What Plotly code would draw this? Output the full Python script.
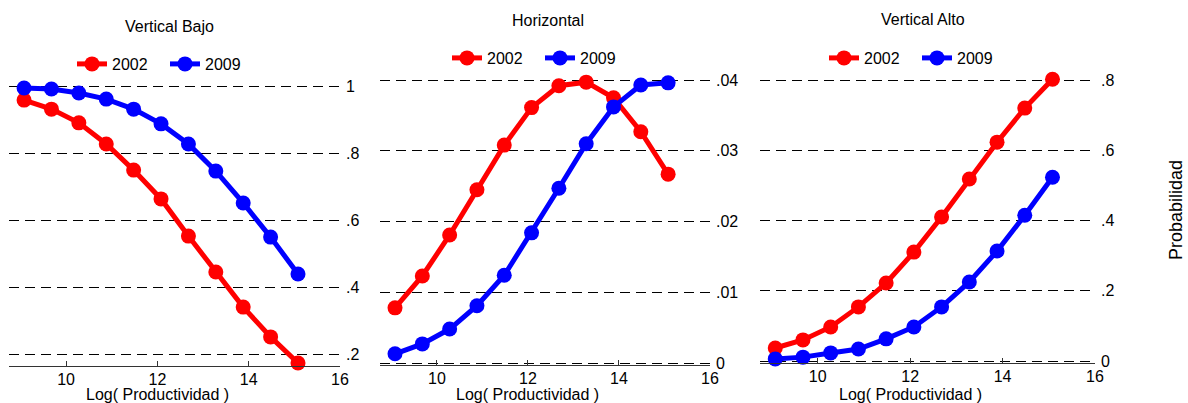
import plotly.graph_objects as go

# ---- data ----
log_prod = [9.08, 9.68, 10.28, 10.88, 11.48, 12.08, 12.68, 13.28, 13.88, 14.48, 15.08]

vb_2002 = [0.958, 0.931, 0.890, 0.827, 0.749, 0.663, 0.552, 0.445, 0.340, 0.251, 0.173]
vb_2009 = [0.994, 0.991, 0.979, 0.961, 0.931, 0.887, 0.827, 0.746, 0.651, 0.549, 0.439]

h_2002 = [0.0078, 0.0123, 0.0181, 0.0245, 0.0308, 0.0361, 0.0392, 0.0397, 0.0375, 0.0327, 0.0267]
h_2009 = [0.0013, 0.0027, 0.0048, 0.0081, 0.0124, 0.0184, 0.0247, 0.0310, 0.0362, 0.0393, 0.0396]

va_2002 = [0.037, 0.060, 0.097, 0.154, 0.222, 0.310, 0.410, 0.518, 0.623, 0.720, 0.802]
va_2009 = [0.006, 0.011, 0.023, 0.034, 0.063, 0.097, 0.154, 0.225, 0.313, 0.415, 0.523]

panel_titles = ["Vertical Bajo", "Horizontal", "Vertical Alto"]
series_names = ["2002", "2009"]
x_ticks = [10, 12, 14, 16]
x_ticktext = ["10", "12", "14", "16"]
y1_ticks = [0.2, 0.4, 0.6, 0.8, 1.0]
y1_ticktext = [".2", ".4", ".6", ".8", "1"]
y2_ticks = [0, 0.01, 0.02, 0.03, 0.04]
y2_ticktext = ["0", ".01", ".02", ".03", ".04"]
y3_ticks = [0, 0.2, 0.4, 0.6, 0.8]
y3_ticktext = ["0", ".2", ".4", ".6", ".8"]
x_title = "Log( Productividad )"
y_title = "Probabilidad"

# ---- style ----
W, H = 1188, 403
FONT = "Liberation Sans, Arial, sans-serif"
RED, BLUE = "#ff0000", "#0000ff"
colors = [RED, BLUE]

panels = [
    dict(series=[vb_2002, vb_2009], yt=y1_ticks, ytt=y1_ticktext,
         xpx=(9, 340), ypx=(76, 366), yr=(0.1642, 1.0299), legend="legend"),
    dict(series=[h_2002, h_2009], yt=y2_ticks, ytt=y2_ticktext,
         xpx=(380, 710), ypx=(76, 365), yr=(-0.00028, 0.04057), legend="legend2"),
    dict(series=[va_2002, va_2009], yt=y3_ticks, ytt=y3_ticktext,
         xpx=(760, 1095), ypx=(76, 363), yr=(-0.0057, 0.8114), legend="legend3"),
]

fig = go.Figure()
layout = dict(
    width=W, height=H, autosize=False,
    margin=dict(l=0, r=0, t=0, b=0, pad=0, autoexpand=False),
    paper_bgcolor="white", plot_bgcolor="white",
    font=dict(family=FONT, size=16, color="#000000"),
    annotations=[],
)

for i, p in enumerate(panels):
    n = "" if i == 0 else str(i + 1)
    xa, ya = "x" + n, "y" + n
    for s, vals in enumerate(p["series"]):
        fig.add_trace(go.Scatter(
            x=log_prod, y=vals, name=series_names[s], mode="lines+markers",
            line=dict(color=colors[s], width=5),
            marker=dict(color=colors[s], size=15),
            xaxis=xa, yaxis=ya, legend=p["legend"], cliponaxis=False,
        ))
    layout["xaxis" + n] = dict(
        domain=[p["xpx"][0] / W, p["xpx"][1] / W], range=[8.75, 16],
        anchor=ya, showgrid=False, zeroline=False, automargin=False,
        showline=True, linecolor="#333333", linewidth=1,
        ticks="inside", ticklen=5, tickcolor="#333333", tickwidth=1,
        tickvals=x_ticks, ticktext=x_ticktext, ticklabelstandoff=-1,
        tickfont=dict(size=16),
    )
    layout["yaxis" + n] = dict(
        domain=[(H - p["ypx"][1]) / H, (H - p["ypx"][0]) / H], range=list(p["yr"]),
        anchor=xa, side="right", showline=False, zeroline=False, ticks="",
        automargin=False,
        showgrid=True, gridcolor="#000000", gridwidth=1.2, griddash="10px,6px",
        tickvals=p["yt"], ticktext=p["ytt"], ticklabelstandoff=5,
        tickfont=dict(size=16),
    )
    # x-axis title centered at value 12
    layout["annotations"].append(dict(
        text=x_title, x=12, xref=xa, y=(H - 394) / H, yref="paper",
        xanchor="center", yanchor="middle", showarrow=False, font=dict(size=16)))

# panel titles
title_pos = [(169, 26), (548, 20), (923, 19)]
for t, (px, py) in zip(panel_titles, title_pos):
    layout["annotations"].append(dict(
        text=t, x=px / W, y=(H - py) / H, xref="paper", yref="paper",
        xanchor="center", yanchor="middle", showarrow=False, font=dict(size=16)))

# y title
layout["annotations"].append(dict(
    text=y_title, x=1176 / W, y=(H - 210) / H, xref="paper", yref="paper",
    xanchor="center", yanchor="middle", textangle=-90, showarrow=False,
    font=dict(size=18)))

# legends
leg_pos = [(72, 64), (447, 58), (824, 58)]
for k, (px, py) in zip(["legend", "legend2", "legend3"], leg_pos):
    layout[k] = dict(
        orientation="h", x=px / W, y=(H - py) / H, xanchor="left", yanchor="middle",
        bgcolor="rgba(0,0,0,0)", borderwidth=0, font=dict(size=16),
        entrywidth=48, entrywidthmode="pixels", traceorder="normal",
    )

fig.update_layout(**layout)
fig.write_html(
    "out.html",
    config={"displayModeBar": False, "responsive": False},
    post_script="document.body.style.margin='0';document.body.style.padding='0';"
                "document.body.style.overflow='hidden';",
)
